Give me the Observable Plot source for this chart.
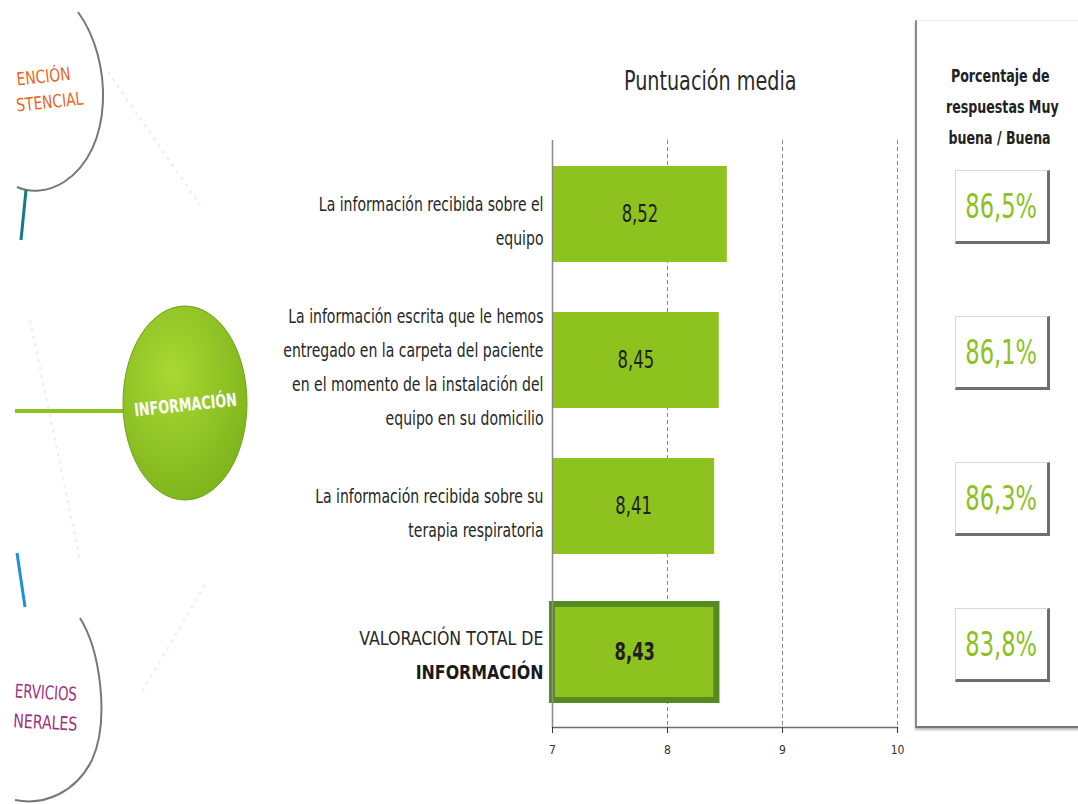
<!DOCTYPE html>
<html>
<head>
<meta charset="utf-8">
<script src="https://cdn.jsdelivr.net/npm/d3@7"></script>
<script src="https://cdn.jsdelivr.net/npm/@observablehq/plot@0.6"></script>
<style>
  html, body { margin: 0; padding: 0; background: #fff; }
  #wrap { position: relative; width: 1078px; height: 804px; overflow: hidden; background: #fff;
    font-family: "Liberation Sans Narrow", "DejaVu Sans Condensed", "Roboto", sans-serif; }
  #chart { position: absolute; left: 0; top: 0; }
  .title { position: absolute; left: 560px; width: 300px; top: 66px; text-align: center;
    font-size: 26px; color: #2a2a2a; }
  .title span, .phead span, .pbox span { display: inline-block; }
  .title span { transform: scaleX(0.82); }
  .panel { position: absolute; left: 915px; top: 20px; width: 200px; height: 705px;
    border-left: 2px solid #8a8a8a; border-top: 1px solid #e8e8e8; border-bottom: 2px solid #777;
    box-shadow: 0 2px 2px #bbb; }
  .phead { position: absolute; left: 930px; width: 140px; top: 60px; text-align: center;
    font-weight: bold; font-size: 18px; line-height: 31px; color: #222; }
  .phead span { transform: scaleX(0.78); white-space: nowrap; }
  .pbox { position: absolute; left: 955px; width: 95px; height: 74px; box-sizing: border-box;
    border-top: 1px solid #d8d8d8; border-left: 1px solid #d8d8d8;
    border-right: 3px solid #6e6e6e; border-bottom: 3px solid #6e6e6e;
    display: flex; align-items: center; justify-content: center;
    color: #8cc11f; font-size: 33px; background: #fff; }
  .pbox span { transform: scaleX(0.76); }
  #decor { position: absolute; left: 0; top: 0; }
</style>
</head>
<body>
<div id="wrap">
  <div id="chart"></div>
  <svg id="decor" width="300" height="804">
    <defs>
      <radialGradient id="gg" cx="0.4" cy="0.35" r="0.7">
        <stop offset="0" stop-color="#a9d832"/>
        <stop offset="1" stop-color="#7db41c"/>
      </radialGradient>
    </defs>
    <g stroke="#ececec" stroke-width="2" stroke-dasharray="3,5" fill="none">
      <line x1="108" y1="72" x2="200" y2="205"/>
      <line x1="205" y1="585" x2="140" y2="695"/>
      <line x1="30" y1="320" x2="80" y2="560"/>
    </g>
    <path d="M78,12 C113,60 114,150 64,182 C48,192 30,193 17,187" fill="none" stroke="#777" stroke-width="2"/>
    <g fill="#e8661c" font-size="18" transform="rotate(-6 50 90)">
      <text x="18" y="82" textLength="54" lengthAdjust="spacingAndGlyphs">ENCIÓN</text>
      <text x="15" y="108" textLength="67" lengthAdjust="spacingAndGlyphs">STENCIAL</text>
    </g>
    <line x1="26" y1="190" x2="21" y2="240" stroke="#16798a" stroke-width="3"/>
    <line x1="15" y1="411" x2="126" y2="411" stroke="#8dc21f" stroke-width="4"/>
    <ellipse cx="185" cy="403" rx="62" ry="97" fill="url(#gg)" stroke="#72a21a" stroke-width="1"/>
    <text x="134" y="411" fill="#fff" font-weight="bold" font-size="18" textLength="103" lengthAdjust="spacingAndGlyphs"
      transform="rotate(-6 185 405)">INFORMACIÓN</text>
    <line x1="17" y1="553" x2="25" y2="607" stroke="#1e8fd8" stroke-width="3"/>
    <path d="M80,618 C100,650 110,720 92,760 C76,792 45,806 15,800" fill="none" stroke="#777" stroke-width="2"/>
    <g fill="#a0307c" font-size="19" transform="rotate(3 45 710)">
      <text x="14" y="699" textLength="62" lengthAdjust="spacingAndGlyphs">ERVICIOS</text>
      <text x="14" y="729" textLength="64" lengthAdjust="spacingAndGlyphs">NERALES</text>
    </g>
  </svg>
  <div class="title"><span>Puntuación media</span></div>
  <div class="panel"></div>
  <div class="phead"><span>Porcentaje de</span><br><span>respuestas Muy</span><br><span>buena / Buena</span></div>
</div>
<script>
// ---- data ----
const categories = [
  "La información recibida sobre el equipo",
  "La información escrita que le hemos entregado en la carpeta del paciente en el momento de la instalación del equipo en su domicilio",
  "La información recibida sobre su terapia respiratoria",
  "VALORACIÓN TOTAL DE INFORMACIÓN"
];
const labelLines = [
  ["La información recibida sobre el", "equipo"],
  ["La información escrita que le hemos", "entregado en la carpeta del paciente", "en el momento de la instalación del", "equipo en su domicilio"],
  ["La información recibida sobre su", "terapia respiratoria"],
  ["VALORACIÓN TOTAL DE", "INFORMACIÓN"]
];
const scores = [8.52, 8.45, 8.41, 8.43];
const pctGood = [86.5, 86.1, 86.3, 83.8];
const xTicks = [7, 8, 9, 10];
const gridTicks = [8, 9, 10];

// ---- build ----
const comma = (v, d) => v.toFixed(d).replace(".", ",");
const rows = categories.map((c, i) => ({
  cat: c, score: scores[i], lab: comma(scores[i], 2), lines: labelLines[i], pct: comma(pctGood[i], 1) + "%"
}));
const normalRows = rows.slice(0, 3);
const totalRows = rows.slice(3);

const FONT = '"Liberation Sans Narrow", "DejaVu Sans Condensed", Roboto, sans-serif';
const GREEN = "#8dc21f";
const LFS = 20, LH = 34 / 20;

const chart = Plot.plot({
  width: 1078, height: 804,
  marginLeft: 552, marginRight: 181, marginTop: 140, marginBottom: 77,
  x: {domain: [7, 10], label: null},
  y: {domain: categories, paddingInner: 0.34, paddingOuter: 0.17, axis: null},
  style: {fontFamily: FONT, background: "transparent", overflow: "visible"},
  marks: [
    Plot.gridX(gridTicks, {stroke: "#8a8a8a", strokeOpacity: 1, strokeDasharray: "4,3"}),
    Plot.barX(normalRows, {x1: 7, x2: "score", y: "cat", fill: GREEN}),
    Plot.barX(totalRows, {x1: 7, x2: "score", y: "cat", fill: GREEN, stroke: "#558a20", strokeWidth: 6}),
    Plot.ruleX([7], {stroke: "#8a8a8a", strokeWidth: 1.5}),
    Plot.frame({anchor: "bottom", stroke: "#6e6e6e", strokeWidth: 1.5}),
    Plot.axisX({ticks: xTicks, tickSize: 6, tickFormat: d => String(d), fontSize: 12, label: null, color: "#333", tickPadding: 12}),
    Plot.text(normalRows, {x: d => (7 + d.score) / 2, y: "cat", text: "lab", fontSize: 24, fill: "#1f1f1f"}),
    Plot.text(totalRows, {x: d => (7 + d.score) / 2, y: "cat", text: "lab", fontSize: 24, fill: "#1f1f1f", fontWeight: "bold"}),
    Plot.text(normalRows, {y: "cat", text: d => d.lines.join("\n"), frameAnchor: "left", textAnchor: "end", dx: -9, dy: 3, fontSize: LFS, lineHeight: LH, fill: "#262626"}),
    Plot.text(totalRows, {y: "cat", text: d => d.lines[0], frameAnchor: "left", textAnchor: "end", dx: -9, dy: 3 - LFS * LH / 2, fontSize: LFS, fill: "#262626"}),
    Plot.text(totalRows, {y: "cat", text: d => d.lines[1], frameAnchor: "left", textAnchor: "end", dx: -9, dy: 3 + LFS * LH / 2, fontSize: LFS, fontWeight: "bold", fill: "#1a1a1a"})
  ]
});
document.getElementById("chart").appendChild(chart);

// condense glyphs horizontally (the source uses a narrow typeface)
const capsTexts = new Set(labelLines[3]);
const labelTexts = new Set();
labelLines.slice(0, 3).forEach(ls => { labelTexts.add(ls.join("")); ls.forEach(l => labelTexts.add(l)); });
const valueTexts = new Set(rows.map(r => r.lab));
function squeezeEl(t, s) {
  const tr = t.getAttribute("transform");
  if (tr) t.setAttribute("transform", tr + ` scale(${s},1)`);
  else {
    const x = +t.getAttribute("x") || 0, y = +t.getAttribute("y") || 0;
    t.removeAttribute("x"); t.removeAttribute("y");
    t.setAttribute("transform", `translate(${x},${y}) scale(${s},1)`);
  }
}
chart.querySelectorAll("text").forEach(t => {
  const s = t.textContent;
  if (capsTexts.has(s)) squeezeEl(t, 0.88);
  else if (labelTexts.has(s)) squeezeEl(t, 0.78);
  else if (valueTexts.has(s)) squeezeEl(t, 0.76);
});

// percentage boxes positioned from the chart's own y scale
const ys = chart.scale("y");
const wrap = document.getElementById("wrap");
rows.forEach(r => {
  const top = ys.apply(r.cat) + ys.bandwidth / 2 - 37 - 7;
  const div = document.createElement("div");
  div.className = "pbox";
  div.style.top = top + "px";
  const sp = document.createElement("span");
  sp.textContent = r.pct;
  div.appendChild(sp);
  wrap.appendChild(div);
});
</script>
</body>
</html>
